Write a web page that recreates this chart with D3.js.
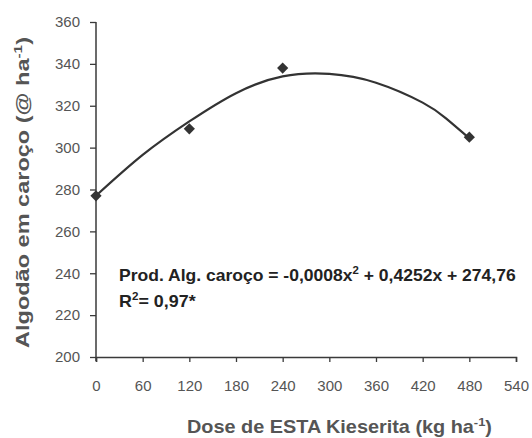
<!DOCTYPE html>
<html>
<head>
<meta charset="utf-8">
<script src="https://cdn.jsdelivr.net/npm/d3@7"></script>
<style>
  body { margin: 0; background: #fff; }
  svg { font-family: "Liberation Sans", Arial, sans-serif; }
</style>
</head>
<body>
<div id="chart"></div>
<script>
// observed points
var doses = [0, 120, 240, 480];
var yields = [277, 309, 338, 305];
// fitted curve
var fitDoses = [0, 60, 120, 180, 240, 300, 360, 420, 450, 480];
var fitYields = [277, 296.5, 312.5, 326, 334, 335.2, 331, 321.5, 314, 304.5];
// ticks
var xTicks = [0, 60, 120, 180, 240, 300, 360, 420, 480, 540];
var yTicks = [200, 220, 240, 260, 280, 300, 320, 340, 360];

var width = 532, height = 438;
var svg = d3.select("#chart").append("svg").attr("width", width).attr("height", height);

var x = d3.scaleLinear().domain([0, 540]).range([96, 516]);
var y = d3.scaleLinear().domain([200, 360]).range([357, 22]);

var axisColor = "#3a3a3a", textColor = "#555";

// y axis
var gy = svg.append("g").attr("transform", "translate(" + x(0) + ",0)")
  .call(d3.axisLeft(y).tickValues(yTicks).tickSize(6).tickPadding(10));
// x axis
var gx = svg.append("g").attr("transform", "translate(0," + y(200) + ")")
  .call(d3.axisBottom(x).tickValues(xTicks).tickSize(5).tickPadding(18));

[gx, gy].forEach(function(g) {
  g.select(".domain").attr("stroke", axisColor).attr("stroke-width", 1.5);
  g.selectAll(".tick line").attr("stroke", axisColor).attr("stroke-width", 1.3);
  g.selectAll(".tick text").attr("fill", textColor).attr("font-size", 15)
    .attr("font-family", "Liberation Sans, Arial, sans-serif");
});
// y axis line runs a little past the x axis
gy.select(".domain").attr("d", "M0," + y(360) + "V" + (y(200) + 4));

// fitted curve
var line = d3.line().x(function(d, i) { return x(fitDoses[i]); })
  .y(function(d) { return y(d); }).curve(d3.curveNatural);
svg.append("path").datum(fitYields).attr("d", line)
  .attr("fill", "none").attr("stroke", "#333").attr("stroke-width", 2.2);

// points
svg.selectAll(".pt").data(yields).enter().append("path").attr("class", "pt")
  .attr("d", d3.symbol().type(d3.symbolDiamond2).size(80))
  .attr("transform", function(d, i) { return "translate(" + x(doses[i]) + "," + y(d) + ")"; })
  .attr("fill", "#333");

// text stretched along its baseline to the length it has in the scan
function stretched(tx, ty, rot, w, size, color, parts) {
  var t = svg.append("text").attr("font-size", size).attr("font-weight", "bold").attr("fill", color);
  parts.forEach(function(p) {
    if (p[1]) t.append("tspan").attr("dy", -7).attr("font-size", size * 0.65).text(p[0]);
    else t.append("tspan").attr("dy", p[2] ? 7 : 0).text(p[0]);
  });
  var k = 1;
  function place() {
    t.attr("transform", "translate(" + tx + "," + ty + ")" + (rot ? " rotate(-90)" : "") + " scale(" + k + ",1)");
  }
  for (var i = 0; i < 3; i++) {
    place();
    var r = t.node().getBoundingClientRect();
    k = k * w / (rot ? r.height : r.width);
  }
  place();
  return t;
}

stretched(119, 281, false, 397, 16, "#222",
  [["Prod. Alg. caroço = -0,0008x"], ["2", true], [" + 0,4252x + 274,76", false, true]]);
stretched(119, 307, false, 77, 16, "#222",
  [["R"], ["2", true], ["= 0,97*", false, true]]);
stretched(187, 433, false, 305, 18, textColor,
  [["Dose de ESTA Kieserita  (kg ha"], ["-1", true], [")", false, true]]);
stretched(29, 348, true, 311, 18, textColor,
  [["Algodão em caroço (@ ha"], ["-1", true], [")", false, true]]);
</script>
</body>
</html>
